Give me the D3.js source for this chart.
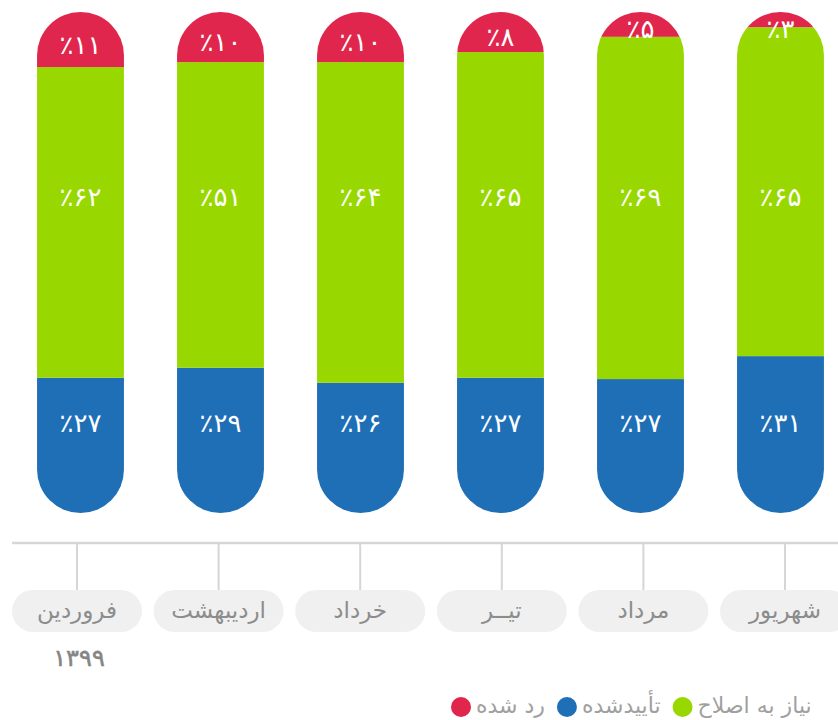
<!DOCTYPE html>
<html>
<head>
<meta charset="utf-8">
<script src="https://cdn.jsdelivr.net/npm/d3@7"></script>
<style>
  body { margin: 0; background: #fff; }
  svg { display: block; font-family: "DejaVu Sans", sans-serif; }
</style>
</head>
<body>
<div id="chart"></div>
<script>
// months, left to right as drawn
var months = ['فروردین', 'اردیبهشت', 'خرداد', 'تیــر', 'مرداد', 'شهریور'];
var year = '۱۳۹۹';

// shares per month (bar heights as drawn)
var rejected = [11, 10, 10, 8, 5, 3];
var needsFix = [62, 61, 64, 65, 69, 65];
var approved = [27, 29, 26, 27, 27, 31];

// printed labels (the second green label reads ۵۱ in the source)
var rejectedLabels = ['٪۱۱', '٪۱۰', '٪۱۰', '٪۸', '٪۵', '٪۳'];
var needsFixLabels = ['٪۶۲', '٪۵۱', '٪۶۴', '٪۶۵', '٪۶۹', '٪۶۵'];
var approvedLabels = ['٪۲۷', '٪۲۹', '٪۲۶', '٪۲۷', '٪۲۷', '٪۳۱'];

var legendNames = ['رد شده', 'تأییدشده', 'نیاز به اصلاح'];

var colors = { approved: '#1f6fb7', needsFix: '#98d800', rejected: '#e0264c' };

var width = 838, height = 720;
var barTop = 12, barBottom = 513;

var data = months.map(function(m, i) {
    return { month: m, approved: approved[i], needsFix: needsFix[i], rejected: rejected[i], i: i };
});

var keys = ['approved', 'needsFix', 'rejected'];
var series = d3.stack().keys(keys).offset(d3.stackOffsetExpand)(data);

var x = d3.scaleBand()
    .domain(months)
    .range([10.5, 850.5])
    .paddingInner(0.379)
    .paddingOuter(0.1895);

var xAxisPos = d3.scalePoint()
    .domain(months)
    .range([77, 785]);

var y = d3.scaleLinear()
    .domain([0, 1])
    .range([barBottom, barTop]);

var svg = d3.select('#chart').append('svg')
    .attr('width', width)
    .attr('height', height);

var defs = svg.append('defs');
var bw = x.bandwidth();

// pill shaped clip for every bar
months.forEach(function(m, i) {
    defs.append('clipPath')
        .attr('id', 'pill' + i)
        .append('rect')
        .attr('x', x(m))
        .attr('y', barTop)
        .attr('width', bw)
        .attr('height', barBottom - barTop)
        .attr('rx', bw / 2)
        .attr('ry', bw / 2);
});

var bars = svg.selectAll('.bar')
    .data(data)
    .enter().append('g')
    .attr('class', 'bar')
    .attr('clip-path', function(d) { return 'url(#pill' + d.i + ')'; });

bars.each(function(d, i) {
    var g = d3.select(this);
    series.forEach(function(s) {
        var seg = s[i];
        g.append('rect')
            .attr('x', x(d.month))
            .attr('y', y(seg[1]))
            .attr('width', bw)
            .attr('height', y(seg[0]) - y(seg[1]))
            .attr('fill', colors[s.key]);
    });
});

// value labels
var labelGroup = svg.append('g')
    .attr('fill', '#fff')
    .attr('font-size', 26)
    .attr('text-anchor', 'middle')
    .attr('dominant-baseline', 'central');

var redSeries = series[2], greenY = 197, blueY = 423;

months.forEach(function(m, i) {
    var cx = x(m) + bw / 2;
    var mid = (y(redSeries[i][0]) + y(redSeries[i][1])) / 2 + 5;
    labelGroup.append('text').attr('x', cx).attr('y', Math.max(mid, 29)).text(rejectedLabels[i]);
    labelGroup.append('text').attr('x', cx).attr('y', greenY).text(needsFixLabels[i]);
    labelGroup.append('text').attr('x', cx).attr('y', blueY).text(approvedLabels[i]);
});

// axis
var axisY = 543;
svg.append('line')
    .attr('x1', 12).attr('x2', width)
    .attr('y1', axisY).attr('y2', axisY)
    .attr('stroke', '#d6d6d6')
    .attr('stroke-width', 2.5);

var ticks = svg.selectAll('.tick')
    .data(months)
    .enter().append('g')
    .attr('class', 'tick')
    .attr('transform', function(d) { return 'translate(' + xAxisPos(d) + ',0)'; });

ticks.append('line')
    .attr('y1', axisY).attr('y2', 591)
    .attr('stroke', '#d6d6d6')
    .attr('stroke-width', 2);

ticks.append('rect')
    .attr('x', -65).attr('y', 590)
    .attr('width', 130).attr('height', 42)
    .attr('rx', 21)
    .attr('fill', '#f0f0f0');

ticks.append('text')
    .attr('y', 610)
    .attr('text-anchor', 'middle')
    .attr('dominant-baseline', 'central')
    .attr('fill', '#8c8c8c')
    .attr('font-size', 23)
    .text(function(d) { return d; });

svg.append('text')
    .attr('x', 79).attr('y', 658)
    .attr('text-anchor', 'middle')
    .attr('dominant-baseline', 'central')
    .attr('fill', '#858585')
    .attr('font-size', 24)
    .attr('stroke', '#858585')
    .attr('stroke-width', 0.6)
    .text(year);

// legend: circle, then its name to the right
var legendColors = [colors.rejected, colors.approved, colors.needsFix];
var legend = svg.append('g');
var lx = 451, ly = 707;
legendNames.forEach(function(name, i) {
    legend.append('circle')
        .attr('cx', lx + 10).attr('cy', ly)
        .attr('r', 10)
        .attr('fill', legendColors[i]);
    var t = legend.append('text')
        .attr('x', lx + 25).attr('y', ly - 2)
        .attr('dominant-baseline', 'central')
        .attr('fill', '#a0a0a0')
        .attr('font-size', 22)
        .text(name);
    lx = lx + 25 + t.node().getComputedTextLength() + 12;
});
</script>
</body>
</html>
